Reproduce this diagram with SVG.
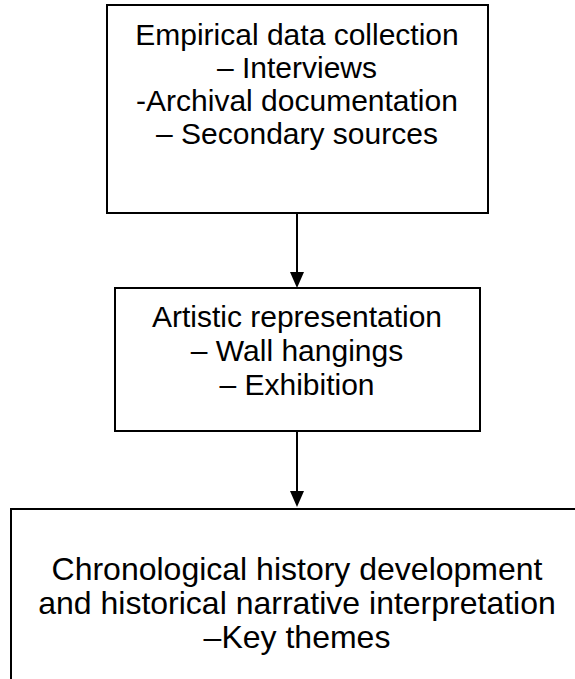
<svg xmlns="http://www.w3.org/2000/svg" width="575" height="679" viewBox="0 0 575 679">
<style>
.box{fill:#fff;stroke:#000;stroke-width:2}
.t{font-family:"Liberation Sans",Arial,sans-serif;font-size:30px;fill:#000;text-anchor:middle}
.t3{font-size:32px}
.c{stroke:#000;stroke-width:2;fill:none}
.ah{fill:#000}
</style>
<rect width="575" height="679" fill="#fff"/>
<g id="connectors">
<line class="c" x1="297" y1="213" x2="297" y2="275" />
<path class="ah" d="M290,272 L304,272 L297,288 Z"/>
<line class="c" x1="297" y1="431" x2="297" y2="494" />
<path class="ah" d="M290,491 L304,491 L297,507 Z"/>
</g>
<g id="node1">
<rect class="box" x="107" y="5" width="381" height="208"/>
<text class="t" x="297" y="45">Empirical data collection</text>
<text class="t" x="297" y="78">– Interviews</text>
<text class="t" x="297" y="111">-Archival documentation</text>
<text class="t" x="297" y="144">– Secondary sources</text>
</g>
<g id="node2">
<rect class="box" x="115" y="288" width="365" height="143"/>
<text class="t" x="297" y="327">Artistic representation</text>
<text class="t" x="297" y="361">– Wall hangings</text>
<text class="t" x="297" y="395">– Exhibition</text>
</g>
<g id="node3">
<rect class="box" x="11" y="509" width="580" height="200"/>
<text class="t t3" x="297" y="580">Chronological history development</text>
<text class="t t3" x="297" y="614">and historical narrative interpretation</text>
<text class="t t3" x="297" y="648">–Key themes</text>
</g>
</svg>
